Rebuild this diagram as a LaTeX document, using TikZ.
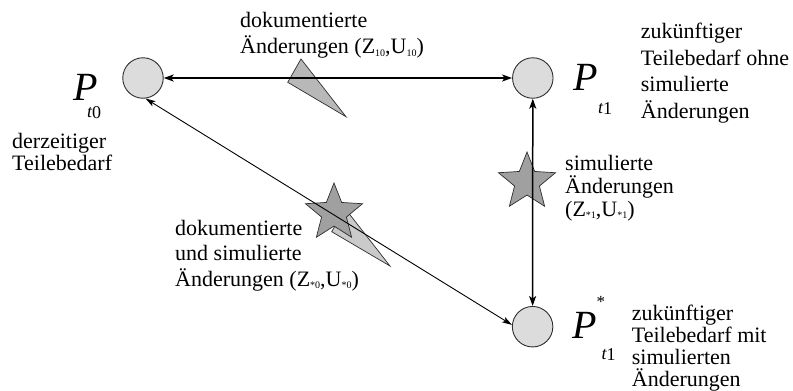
\documentclass[tikz,border=0pt]{standalone}
\usepackage{fontspec}
\setmainfont{Liberation Serif}
\usepackage{tikz}
\usetikzlibrary{arrows.meta,shapes.geometric}
\definecolor{kreisgrau}{HTML}{DCDCDC}
\definecolor{randgrau}{HTML}{2E2E2E}
\definecolor{blitzgrau}{HTML}{B8B8B8}
\definecolor{blitzhell}{HTML}{CACACA}
\definecolor{sterngrau}{HTML}{A0A0A0}
% kleine Indizes in (Z,U)
\newcommand{\idx}[1]{\raisebox{-2.5pt}{\fontsize{10}{10}\selectfont #1}}
% P mit Index: #1 Abstand, #2 Absenkung, #3 Stern, #4 Ziffer
\newcommand{\Pzeichen}[4]{%
  {\fontsize{40}{40}\selectfont\itshape P}%
  \rlap{\raisebox{31pt}{\fontsize{17}{17}\selectfont #3}}%
  \kern#1\raisebox{-#2}{\fontsize{18}{18}\selectfont\itshape t\raisebox{-1.5pt}{\upshape #4}}}

\begin{document}
\begin{tikzpicture}[x=1pt, y=-1pt,
    zustand/.style={circle, draw=randgrau, line width=0.9pt, fill=kreisgrau, minimum size=40.5pt, inner sep=0pt},
    % Anker = Grundlinie der letzten Zeile
    txt/.style={anchor=base west, align=left, inner sep=0pt, font=\fontsize{22}{#1}\selectfont},
    txt/.default=22,
    pzeichen/.style={anchor=base west, inner sep=0pt},
    pfeil/.style={line width=1.5pt, {Stealth[length=10pt,width=7pt,inset=2.5pt]}-{Stealth[length=10pt,width=7pt,inset=2.5pt]}},
    duenn/.style={line width=0.9pt, {Stealth[length=10pt,width=6pt,inset=2.5pt]}-{Stealth[length=10pt,width=6pt,inset=2.5pt]}},
    blitz/.style={draw=randgrau, line width=0.7pt},
    stern/.style={star, star points=5, star point ratio=2.3, minimum size=60pt, inner sep=0pt, draw=randgrau, fill=sterngrau, line width=0.7pt}
]
\useasboundingbox (0,0) rectangle (793,391);

% Blitze und Sterne
\draw[blitz, fill=blitzgrau] (301,59) -- (287.7,82.3) -- (346,116.7) -- cycle;
\draw[blitz, fill=blitzhell] (345,208.4) -- (331.7,231.7) -- (390,266) -- cycle;
\node[stern] (s0) at (334,213) {};
\node[stern] (s1) at (527,182) {};

% Zustaende
\node[zustand] (p0) at (143,78) {};
\node[zustand] (p1) at (532.8,78) {};
\node[zustand] (pstar) at (532.6,326.7) {};

\draw[pfeil] (p0) -- (p1);
\draw[pfeil] (p1) -- (pstar);
\draw[duenn] (p0.-83) -- (pstar.175);

% Bezeichnungen
\node[pzeichen] (lp0) at (73,100) {\Pzeichen{-10.4pt}{17pt}{}{0}};
\node[pzeichen] (lp1) at (573,90) {\Pzeichen{0.6pt}{23pt}{}{1}};
\node[pzeichen] (lpstar) at (572,338) {\Pzeichen{5pt}{21pt}{*}{1}};

\node[txt=26.5] (doku) at (240,53.5) {dokumentierte\\Änderungen (Z\idx{10},U\idx{10})};
\node[txt=22] (derz) at (12,170) {derzeitiger\\Teilebedarf};
\node[txt=26.7] (ohne) at (640.7,118.4) {zukünftiger\\Teilebedarf ohne\\simulierte\\Änderungen};
\node[txt=23] (simu) at (565,216) {simulierte\\Änderungen\\(Z\idx{*1},U\idx{*1})};
\node[txt=25.5] (beide) at (175,286) {dokumentierte\\und simulierte\\Änderungen (Z\idx{*0},U\idx{*0})};
\node[txt=22] (mit) at (631.7,386) {zukünftiger\\Teilebedarf mit\\simulierten\\Änderungen};
\end{tikzpicture}
\end{document}
